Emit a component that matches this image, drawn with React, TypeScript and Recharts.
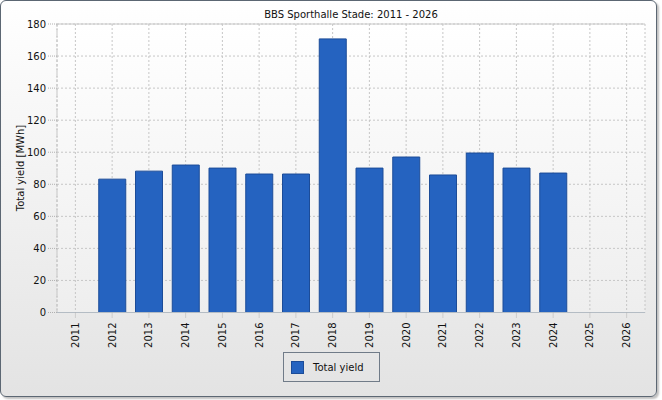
import React from "react"
import { Bar, BarChart, CartesianGrid, Legend, ReferenceLine, XAxis, YAxis } from "recharts"

const years = ["2011", "2012", "2013", "2014", "2015", "2016", "2017", "2018", "2019", "2020", "2021", "2022", "2023", "2024", "2025", "2026"]
const totalYield = [null, 83.2, 88.2, 92, 90.1, 86.4, 86.4, 170.7, 90.1, 97, 85.8, 99.5, 90.1, 87, null, null]
const yTicks = [0, 20, 40, 60, 80, 100, 120, 140, 160, 180]

const data = years.map((year, i) => ({ year, total: totalYield[i] }))

const FONT = "'DejaVu Sans', sans-serif"
const BAR_FILL = "#2563c0"
const BAR_STROKE = "#1c4c98"

function YearTick(props: any) {
  const { x, y, payload } = props
  return (
    <text
      x={x}
      y={y + 3}
      transform={`rotate(-90, ${x}, ${y + 3})`}
      textAnchor="end"
      dominantBaseline="central"
      fontSize={10}
      fontFamily={FONT}
      fill="#111"
    >
      {payload.value}
    </text>
  )
}

function LegendBox() {
  return (
    <div
      style={{
        boxSizing: "border-box",
        width: 97,
        height: 30,
        border: "1px solid #707b88",
        display: "flex",
        alignItems: "center",
        fontFamily: FONT,
        fontSize: 10,
        color: "#111",
      }}
    >
      <span
        style={{
          display: "inline-block",
          width: 13,
          height: 13,
          marginLeft: 7,
          marginRight: 9,
          boxSizing: "border-box",
          background: BAR_FILL,
          border: `1px solid ${BAR_STROKE}`,
        }}
      />
      Total yield
    </div>
  )
}

export default function App() {
  return (
    <div style={{ position: "fixed", left: 0, top: 0, width: 662, height: 400, background: "#fff" }}>
      <div
        style={{
          position: "absolute",
          left: 0,
          top: 0,
          width: 657,
          height: 397,
          boxSizing: "border-box",
          border: "1px solid #5c6773",
          borderRadius: 6,
          background: "linear-gradient(#ffffff, #e3e3e3)",
          boxShadow: "2px 2px 2px rgba(0,0,0,0.25)",
        }}
      />
      <div style={{ position: "absolute", left: 0, top: 0 }}>
        <BarChart width={662} height={400} data={data} margin={{ top: 24, right: 17, bottom: 0, left: 0 }}>
          <defs>
            <linearGradient id="plotBg" x1="0" y1="0" x2="0" y2="1">
              <stop offset="0%" stopColor="#ffffff" />
              <stop offset="100%" stopColor="#eeeeee" />
            </linearGradient>
          </defs>
          <CartesianGrid fill="url(#plotBg)" stroke="#c6c6c6" strokeDasharray="2 2" />
          <XAxis
            dataKey="year"
            height={87.5}
            interval={0}
            tick={<YearTick />}
            tickSize={5}
            tickLine={{ stroke: "#b0b0b0", strokeDasharray: "1 1" }}
            axisLine={{ stroke: "#b4bcc4" }}
          />
          <YAxis
            width={57}
            domain={[0, 180]}
            ticks={yTicks}
            interval={0}
            tickSize={9}
            tickMargin={2}
            tickLine={{ stroke: "#b0b0b0", strokeDasharray: "1 1" }}
            axisLine={{ stroke: "#c4c4c4", strokeDasharray: "3 2" }}
            tick={{ fontSize: 10, fontFamily: FONT, fill: "#111" }}
          />
          <YAxis
            yAxisId="right"
            orientation="right"
            width={0}
            domain={[0, 180]}
            tick={false}
            tickLine={false}
            axisLine={{ stroke: "#c8c8c8" }}
          />
          <ReferenceLine y={180} stroke="#c8c8c8" />
          <Bar dataKey="total" name="Total yield" fill={BAR_FILL} stroke={BAR_STROKE} strokeWidth={1} barSize={27} isAnimationActive={false} />
          <Legend
            layout="vertical"
            align="center"
            verticalAlign="middle"
            content={<LegendBox />}
            wrapperStyle={{ left: 283, top: 352, width: 97, height: 30, bottom: "auto" }}
          />
        </BarChart>
      </div>
      <div
        style={{
          position: "absolute",
          left: 57,
          width: 588,
          top: 9,
          textAlign: "center",
          fontFamily: FONT,
          fontSize: 10,
          color: "#111",
        }}
      >
        BBS Sporthalle Stade: 2011 - 2026
      </div>
      <div
        style={{
          position: "absolute",
          left: 20,
          top: 168,
          transform: "translate(-50%, -50%) rotate(-90deg)",
          whiteSpace: "nowrap",
          fontFamily: FONT,
          fontSize: 10,
          color: "#111",
        }}
      >
        Total yield [MWh]
      </div>
    </div>
  )
}
